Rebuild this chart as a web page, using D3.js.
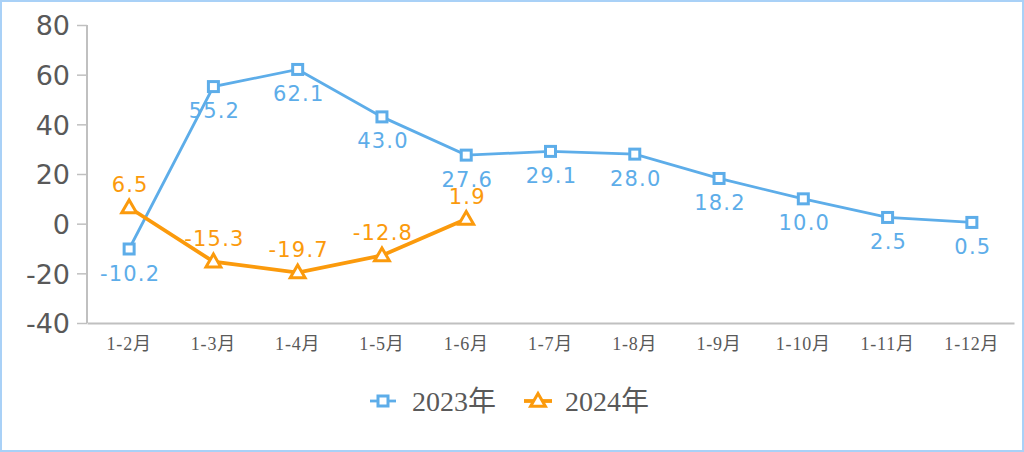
<!DOCTYPE html>
<html><head><meta charset="utf-8">
<script src="https://cdn.jsdelivr.net/npm/d3@7"></script>
<style>body{margin:0;background:#fff;}svg{display:block;}</style>
</head><body>
<svg id="c" width="1024" height="452"></svg>
<script>
const categories = ["1-2月","1-3月","1-4月","1-5月","1-6月","1-7月","1-8月","1-9月","1-10月","1-11月","1-12月"];
const values2023 = [-10.2,55.2,62.1,43.0,27.6,29.1,28.0,18.2,10.0,2.5,0.5];
const values2024 = [6.5,-15.3,-19.7,-12.8,1.9];
const yTicks = [-40,-20,0,20,40,60,80];
const seriesNames = ["2023年","2024年"];

const blue = "#5dade9", orange = "#fb9a0c", gray = "#595959";
const svg = d3.select("#c");
svg.append("rect").attr("x",1).attr("y",1).attr("width",1022).attr("height",450)
  .attr("fill","#fff").attr("stroke","#a9d1f7").attr("stroke-width",2);

const x = d3.scaleBand().domain(categories).range([87,1014]);
const y = d3.scaleLinear().domain([-40,80]).range([323,25]);

// y axis
const ya = svg.append("g").attr("transform","translate(87,0)")
  .call(d3.axisLeft(y).tickValues(yTicks).tickFormat(d=>String(d)).tickSize(10).tickPadding(7));
ya.select(".domain").attr("stroke","#c0c0c0").attr("stroke-width",2).attr("d","M0,25V323");
ya.selectAll(".tick line").attr("stroke","#c0c0c0").attr("stroke-width",1.5);
ya.selectAll(".tick text").attr("fill",gray).attr("font-family","DejaVu Sans, Verdana, sans-serif").attr("font-size",27).attr("dy","0.36em");

// x axis
const xa = svg.append("g").attr("transform","translate(0,323)")
  .call(d3.axisBottom(x).tickSize(0).tickPadding(14));
xa.select(".domain").attr("stroke","#c0c0c0").attr("stroke-width",2);
xa.selectAll(".tick text").attr("fill",gray).attr("font-family","Liberation Serif, Noto Sans CJK SC, serif").attr("font-size",18).attr("letter-spacing",0.8);

const cx = d => x(d) + x.bandwidth()/2;

const d23 = values2023.map((v,i)=>({c:categories[i],v}));
const d24 = values2024.map((v,i)=>({c:categories[i],v}));
const line = d3.line().x(d=>cx(d.c)).y(d=>y(d.v));

svg.append("path").datum(d23).attr("d",line).attr("fill","none").attr("stroke",blue).attr("stroke-width",2.8);
svg.append("path").datum(d24).attr("d",line).attr("fill","none").attr("stroke",orange).attr("stroke-width",3.8);

const tri = d3.symbol().type(d3.symbolTriangle).size(95);
svg.selectAll(".m23").data(d23).enter().append("rect")
  .attr("x",d=>cx(d.c)-5).attr("y",d=>y(d.v)-5).attr("width",10).attr("height",10)
  .attr("fill","#fff").attr("stroke",blue).attr("stroke-width",3);
svg.selectAll(".m24").data(d24).enter().append("path")
  .attr("d",tri).attr("transform",d=>`translate(${cx(d.c)},${y(d.v)+1})`)
  .attr("fill","#fff").attr("stroke",orange).attr("stroke-width",3);

const lblFont = "DejaVu Sans, Verdana, sans-serif";
svg.selectAll(".l23").data(d23).enter().append("text")
  .attr("x",d=>cx(d.c)+1).attr("y",d=>y(d.v)+24).attr("dy","0.36em")
  .attr("text-anchor","middle").attr("font-family",lblFont).attr("font-size",21)
  .attr("letter-spacing",1.2).attr("fill",blue).text(d=>d.v.toFixed(1));
svg.selectAll(".l24").data(d24).enter().append("text")
  .attr("x",d=>cx(d.c)+1).attr("y",d=>y(d.v)-23).attr("dy","0.36em")
  .attr("text-anchor","middle").attr("font-family",lblFont).attr("font-size",21)
  .attr("letter-spacing",1.2).attr("fill",orange).text(d=>d.v.toFixed(1));

// legend
const lg = svg.append("g");
const l1 = lg.append("g").attr("transform","translate(383,401)");
l1.append("line").attr("x1",-13).attr("x2",13).attr("stroke",blue).attr("stroke-width",2.8);
l1.append("rect").attr("x",-5).attr("y",-5).attr("width",10).attr("height",10).attr("fill","#fff").attr("stroke",blue).attr("stroke-width",3);
l1.append("text").attr("x",29).attr("y",0).attr("dy","0.36em").attr("font-family","Liberation Serif, Noto Sans CJK SC, serif").attr("font-size",28).attr("fill",gray).text(seriesNames[0]);
const l2 = lg.append("g").attr("transform","translate(538,401)");
l2.append("line").attr("x1",-14).attr("x2",14).attr("stroke",orange).attr("stroke-width",3.8);
l2.append("path").attr("d",tri).attr("transform","translate(0,1)").attr("fill","#fff").attr("stroke",orange).attr("stroke-width",3);
l2.append("text").attr("x",27).attr("y",0).attr("dy","0.36em").attr("font-family","Liberation Serif, Noto Sans CJK SC, serif").attr("font-size",28).attr("fill",gray).text(seriesNames[1]);
</script>
</body></html>
